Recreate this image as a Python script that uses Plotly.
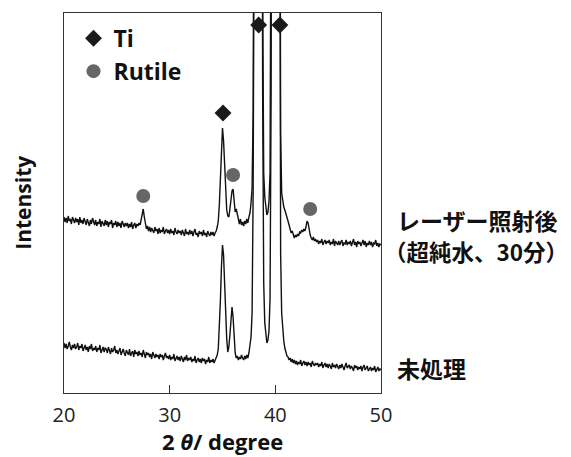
import plotly.graph_objects as go

# 2-theta scan points (degrees)
two_theta = [
    20.0, 20.1, 20.2, 20.3, 20.4, 20.5, 20.6, 20.7, 20.8, 20.9,
    21.0, 21.1, 21.2, 21.3, 21.4, 21.5, 21.6, 21.7, 21.8, 21.9,
    22.0, 22.1, 22.2, 22.3, 22.4, 22.5, 22.6, 22.7, 22.8, 22.9,
    23.0, 23.1, 23.2, 23.3, 23.4, 23.5, 23.6, 23.7, 23.8, 23.9,
    24.0, 24.1, 24.2, 24.3, 24.4, 24.5, 24.6, 24.7, 24.8, 24.9,
    25.0, 25.1, 25.2, 25.3, 25.4, 25.5, 25.6, 25.7, 25.8, 25.9,
    26.0, 26.1, 26.2, 26.3, 26.4, 26.5, 26.6, 26.7, 26.8, 26.9,
    27.0, 27.1, 27.2, 27.3, 27.4, 27.5, 27.6, 27.7, 27.8, 27.9,
    28.0, 28.1, 28.2, 28.3, 28.4, 28.5, 28.6, 28.7, 28.8, 28.9,
    29.0, 29.1, 29.2, 29.3, 29.4, 29.5, 29.6, 29.7, 29.8, 29.9,
    30.0, 30.1, 30.2, 30.3, 30.4, 30.5, 30.6, 30.7, 30.8, 30.9,
    31.0, 31.1, 31.2, 31.3, 31.4, 31.5, 31.6, 31.7, 31.8, 31.9,
    32.0, 32.1, 32.2, 32.3, 32.4, 32.5, 32.6, 32.7, 32.8, 32.9,
    33.0, 33.1, 33.2, 33.3, 33.4, 33.5, 33.6, 33.7, 33.8, 33.9,
    34.0, 34.1, 34.2, 34.3, 34.4, 34.5, 34.6, 34.7, 34.8, 34.9,
    35.0, 35.1, 35.2, 35.3, 35.4, 35.5, 35.6, 35.7, 35.8, 35.9,
    36.0, 36.1, 36.2, 36.3, 36.4, 36.5, 36.6, 36.7, 36.8, 36.9,
    37.0, 37.1, 37.2, 37.3, 37.4, 37.5, 37.6, 37.7, 37.8, 37.9,
    38.0, 38.1, 38.2, 38.3, 38.4, 38.5, 38.6, 38.7, 38.8, 38.9,
    39.0, 39.1, 39.2, 39.3, 39.4, 39.5, 39.6, 39.7, 39.8, 39.9,
    40.0, 40.1, 40.2, 40.3, 40.4, 40.5, 40.6, 40.7, 40.8, 40.9,
    41.0, 41.1, 41.2, 41.3, 41.4, 41.5, 41.6, 41.7, 41.8, 41.9,
    42.0, 42.1, 42.2, 42.3, 42.4, 42.5, 42.6, 42.7, 42.8, 42.9,
    43.0, 43.1, 43.2, 43.3, 43.4, 43.5, 43.6, 43.7, 43.8, 43.9,
    44.0, 44.1, 44.2, 44.3, 44.4, 44.5, 44.6, 44.7, 44.8, 44.9,
    45.0, 45.1, 45.2, 45.3, 45.4, 45.5, 45.6, 45.7, 45.8, 45.9,
    46.0, 46.1, 46.2, 46.3, 46.4, 46.5, 46.6, 46.7, 46.8, 46.9,
    47.0, 47.1, 47.2, 47.3, 47.4, 47.5, 47.6, 47.7, 47.8, 47.9,
    48.0, 48.1, 48.2, 48.3, 48.4, 48.5, 48.6, 48.7, 48.8, 48.9,
    49.0, 49.1, 49.2, 49.3, 49.4, 49.5, 49.6, 49.7, 49.8, 49.9,
    50.0,
]

# Untreated sample intensity (a.u.)
untreated = [
    50, 45, 49, 44, 47, 51, 46, 43, 48, 45,
    49, 44, 46, 50, 43, 47, 45, 49, 42, 46,
    48, 43, 46, 41, 47, 44, 49, 42, 45, 43,
    47, 41, 45, 43, 48, 40, 44, 46, 41, 45,
    44, 40, 46, 42, 39, 45, 41, 43, 47, 40,
    43, 39, 42, 45, 38, 41, 44, 40, 37, 43,
    41, 38, 44, 37, 40, 42, 36, 43, 39, 41,
    37, 42, 38, 40, 36, 43, 39, 35, 41, 38,
    40, 36, 39, 34, 41, 37, 35, 39, 36, 38,
    34, 39, 36, 38, 33, 37, 40, 35, 37, 34,
    38, 33, 36, 34, 39, 32, 35, 37, 33, 36,
    32, 37, 34, 31, 36, 33, 38, 32, 35, 33,
    36, 31, 34, 32, 37, 30, 33, 35, 31, 34,
    30, 35, 32, 34, 29, 33, 31, 36, 30, 33,
    31, 34, 30, 33, 36, 38, 44, 62, 92, 126,
    148, 138, 108, 78, 54, 41, 46, 58, 76, 86,
    76, 52, 40, 35, 37, 33, 36, 34, 38, 35,
    33, 37, 34, 38, 35, 40, 46, 56, 80, 200,
    500, 1300, 1800, 2000, 2000, 1800, 1300, 800, 300, 110,
    70, 56, 50, 53, 62, 95, 300, 900, 1400, 1800,
    2000, 2000, 1800, 1300, 700, 140, 80, 62, 52, 45,
    41, 37, 36, 33, 35, 31, 34, 30, 33, 29,
    32, 28, 31, 29, 33, 27, 30, 32, 28, 31,
    27, 31, 28, 30, 26, 32, 29, 27, 30, 28,
    30, 26, 29, 27, 31, 25, 28, 30, 26, 29,
    25, 29, 27, 24, 30, 26, 28, 25, 29, 27,
    24, 28, 25, 29, 26, 23, 27, 30, 25, 27,
    28, 24, 27, 25, 22, 28, 25, 27, 23, 26,
    24, 27, 22, 26, 28, 23, 25, 27, 22, 25,
    26, 22, 25, 23, 27, 21, 24, 26, 22, 24,
    23,
]

# Laser irradiated (ultrapure water, 30 min) intensity (a.u.)
laser = [
    51, 46, 50, 45, 52, 47, 49, 44, 51, 47,
    45, 50, 46, 49, 43, 51, 45, 48, 44, 50,
    47, 43, 49, 45, 42, 48, 44, 50, 45, 43,
    48, 42, 46, 44, 49, 41, 47, 45, 42, 48,
    43, 47, 41, 46, 44, 48, 40, 45, 43, 47,
    41, 46, 42, 45, 40, 47, 43, 41, 45, 42,
    45, 40, 44, 41, 46, 39, 43, 45, 40, 44,
    42, 45, 43, 49, 55, 59, 51, 43, 39, 42,
    37, 41, 36, 40, 38, 35, 41, 37, 39, 34,
    40, 35, 38, 36, 41, 34, 37, 39, 35, 38,
    34, 39, 35, 37, 33, 40, 36, 34, 38, 35,
    37, 33, 38, 35, 32, 39, 34, 36, 33, 38,
    34, 37, 32, 36, 39, 33, 35, 31, 37, 34,
    36, 32, 38, 33, 35, 31, 37, 34, 32, 36,
    33, 36, 32, 35, 37, 41, 47, 63, 90, 120,
    140, 127, 100, 73, 58, 52, 51, 59, 71, 77,
    79, 67, 56, 59, 53, 47, 44, 49, 43, 46,
    42, 47, 44, 49, 45, 51, 55, 65, 80, 155,
    475, 1275, 1775, 1975, 1975, 1775, 1275, 775, 275, 95,
    71, 58, 53, 56, 67, 95, 205, 775, 1375, 1775,
    1975, 1975, 1775, 1275, 675, 135, 75, 65, 61, 58,
    55, 52, 47, 43, 38, 35, 37, 32, 30, 33,
    31, 34, 32, 36, 35, 38, 36, 39, 37, 41,
    47, 45, 38, 33, 30, 28, 31, 27, 29, 26,
    28, 24, 27, 25, 29, 23, 26, 28, 24, 27,
    25, 28, 23, 26, 24, 29, 22, 27, 25, 23,
    27, 23, 26, 28, 22, 25, 24, 28, 23, 26,
    24, 27, 22, 25, 29, 23, 26, 21, 27, 24,
    26, 22, 25, 28, 23, 27, 21, 25, 23, 27,
    23, 26, 21, 25, 24, 28, 22, 25, 21, 24,
    23,
]

# Vertical offset used to stack the laser-irradiated pattern
OFFSET = 125

# Phase marker positions (peak 2theta) and their label heights
ti_peaks = [35.05, 38.42, 40.43]
ti_marker_y = [280, 368, 368]
rutile_peaks = [27.5, 36.0, 43.3]
rutile_marker_y = [197, 218, 184]

FONT = "Open Sans, Noto Sans CJK JP, sans-serif"
JP_FONT = "Noto Sans CJK JP, sans-serif"

fig = go.Figure()

fig.add_trace(go.Scatter(
    x=two_theta, y=untreated, mode="lines",
    line=dict(color="#111111", width=1.4), showlegend=False, hoverinfo="skip"))
fig.add_trace(go.Scatter(
    x=two_theta, y=[v + OFFSET for v in laser], mode="lines",
    line=dict(color="#111111", width=1.4), showlegend=False, hoverinfo="skip"))

fig.add_trace(go.Scatter(
    x=ti_peaks, y=ti_marker_y, mode="markers", name="<b>Ti</b>",
    marker=dict(symbol="diamond", size=13, color="#1a1a1a"), cliponaxis=False))
fig.add_trace(go.Scatter(
    x=rutile_peaks, y=rutile_marker_y, mode="markers", name="<b>Rutile</b>",
    marker=dict(symbol="circle", size=14, color="#666666"), cliponaxis=False))

annotations = [
    dict(text="<b>レーザー照射後</b>", x=1.0427, y=0.455, xref="paper", yref="paper",
         xanchor="left", yanchor="middle", showarrow=False,
         font=dict(family=JP_FONT, size=23, color="#111111")),
    dict(text="<b>（超純水、30分）</b>", x=1.003, y=0.373, xref="paper", yref="paper",
         xanchor="left", yanchor="middle", showarrow=False,
         font=dict(family=JP_FONT, size=22.5, color="#111111")),
    dict(text="<b>未処理</b>", x=1.0427, y=0.066, xref="paper", yref="paper",
         xanchor="left", yanchor="middle", showarrow=False,
         font=dict(family=JP_FONT, size=23, color="#111111")),
    dict(text="<b>Intensity</b>", x=-0.13, y=0.5, xref="paper", yref="paper",
         xanchor="center", yanchor="middle", textangle=-90, showarrow=False,
         font=dict(family=FONT, size=21, color="#111111")),
    dict(text="<b>2 <i>θ</i>/ degree</b>", x=0.5, y=-0.127, xref="paper", yref="paper",
         xanchor="center", yanchor="middle", showarrow=False,
         font=dict(family=FONT, size=22, color="#111111")),
]

fig.update_layout(
    width=571, height=457,
    margin=dict(l=64, r=190, t=13, b=64),
    paper_bgcolor="white", plot_bgcolor="white",
    font=dict(family=FONT, color="#222222"),
    annotations=annotations,
    legend=dict(x=0.03, y=0.99, xanchor="left", yanchor="top",
                bgcolor="rgba(0,0,0,0)", font=dict(family=FONT, size=23, color="#111111"),
                itemsizing="trace", tracegroupgap=0),
    xaxis=dict(range=[20, 50], tickvals=[20, 30, 40, 50], ticks="inside", ticklen=8,
               tickcolor="#333333", tickwidth=1.3, ticklabelstandoff=4,
               showline=True, mirror=True, linecolor="#333333", linewidth=1.3,
               showgrid=False, zeroline=False, tickfont=dict(size=20, color="#222222")),
    yaxis=dict(range=[0, 380], showticklabels=False, ticks="",
               showline=True, mirror=True, linecolor="#333333", linewidth=1.3,
               showgrid=False, zeroline=False),
)

fig.write_html("out.html")
